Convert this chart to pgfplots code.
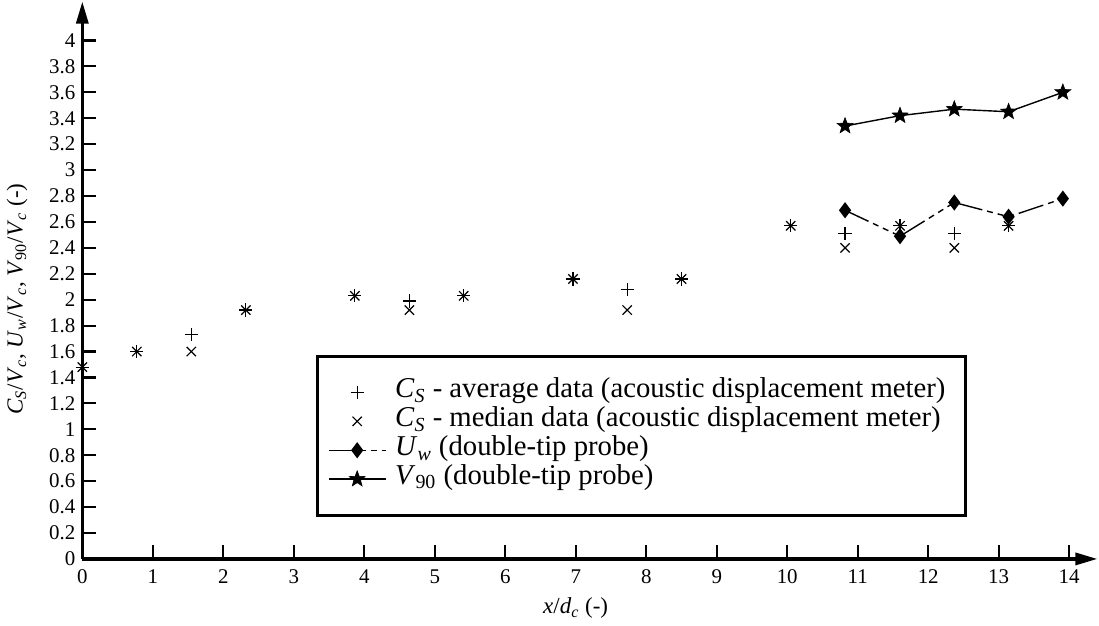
\documentclass[border=0pt]{standalone}
\usepackage{fontspec}
\setmainfont{Liberation Serif}
\usepackage{pgfplots}
\pgfplotsset{compat=1.18}
\usetikzlibrary{arrows.meta}
\newcommand\vv[2]{\textit{#1}\textsubscript{#2}}
\pgfplotsset{
  marklegend/.style={legend image code/.code={\path (0cm,0cm) (1cm,0cm); \draw[##1] plot coordinates {(0.5cm,0cm)};}},
  linelegend/.style={legend image code/.code={\draw[mark repeat=2,mark phase=2,##1] plot coordinates {(0cm,0cm) (0.5cm,0cm) (1cm,0cm)};}},
}
\pgfdeclareplotmark{fstar}{%
  \pgfpathmoveto{\pgfpointpolar{90}{\pgfplotmarksize}}%
  \pgfpathlineto{\pgfpointpolar{126}{0.42\pgfplotmarksize}}%
  \pgfpathlineto{\pgfpointpolar{162}{\pgfplotmarksize}}%
  \pgfpathlineto{\pgfpointpolar{198}{0.42\pgfplotmarksize}}%
  \pgfpathlineto{\pgfpointpolar{234}{\pgfplotmarksize}}%
  \pgfpathlineto{\pgfpointpolar{270}{0.42\pgfplotmarksize}}%
  \pgfpathlineto{\pgfpointpolar{306}{\pgfplotmarksize}}%
  \pgfpathlineto{\pgfpointpolar{342}{0.42\pgfplotmarksize}}%
  \pgfpathlineto{\pgfpointpolar{18}{\pgfplotmarksize}}%
  \pgfpathlineto{\pgfpointpolar{54}{0.42\pgfplotmarksize}}%
  \pgfpathclose
  \pgfusepathqfillstroke}
\begin{document}
\begin{tikzpicture}
\begin{axis}[
  scale only axis,
  x=35.35pt, y=65pt,
  xmin=0, xmax=14.4, ymin=0, ymax=4.3,
  axis lines=left,
  axis line style={line width=1.6pt, -{Triangle[length=11pt,width=6pt]}},
  tick align=inside,
  major tick length=6.8pt,
  tick style={line width=1.1pt, black},
  xtick={0,1,...,14},
  ytick={0,0.2,0.4,0.6,0.8,1,1.2,1.4,1.6,1.8,2,2.2,2.4,2.6,2.8,3,3.2,3.4,3.6,3.8,4},
  /pgf/number format/assume math mode=true,
  ticklabel style={font=\fontsize{10.5}{12}\selectfont},
  xticklabel style={yshift=-2pt},
  xlabel={\textit{x}/\vv{d}{\textit{c}} (-)},
  ylabel={\vv{C}{\textit{S}}/\vv{V}{\textit{c}}, \vv{U}{\textit{w}}/\vv{V}{\textit{c}}, \vv{V}{90}/\vv{V}{\textit{c}} (-)},
  label style={font=\fontsize{11.5}{13}\selectfont},
  xlabel style={at={(ticklabel cs:0.486)}, yshift=0pt},
  ylabel style={at={(ticklabel cs:0.466)}},
  ylabel shift=4pt,
  legend cell align=left,
  legend style={at={(axis cs:3.31,1.577)}, anchor=north west, draw=black, line width=1.5pt,
    font=\fontsize{14.4}{16}\selectfont, inner xsep=5.5pt, inner ysep=11pt,
    row sep=0pt, nodes={text height=10pt, text depth=4.5pt, inner ysep=0pt, inner xsep=4.5pt}},
]
\addplot[only marks, mark=+, mark size=3.3pt, line width=0.6pt, marklegend] coordinates {
(0,1.48) (0.773,1.60) (1.546,1.73) (2.32,1.92) (3.866,2.03) (4.64,1.99) (5.41,2.03)
(6.96,2.16) (7.73,2.08) (8.5,2.16) (10.05,2.57) (10.82,2.51) (11.6,2.57) (12.37,2.51) (13.14,2.57)};
\addlegendentry{\vv{C}{\textit{S}} - average data (acoustic displacement meter)}
\addplot[only marks, mark=x, mark size=3.3pt, line width=0.6pt, marklegend] coordinates {
(0,1.48) (0.773,1.60) (1.546,1.60) (2.32,1.92) (3.866,2.03) (4.64,1.92) (5.41,2.03)
(6.96,2.16) (7.73,1.92) (8.5,2.16) (10.05,2.57) (10.82,2.40) (11.6,2.57) (12.37,2.40) (13.14,2.57)};
\addlegendentry{\vv{C}{\textit{S}} - median data (acoustic displacement meter)}
\addplot[black, line width=0.7pt, dash pattern={on 13pt off 2.5pt on 3pt off 2.5pt on 3pt off 2.5pt on 3pt off 2.5pt},
  mark=diamond*, mark size=3.5pt, mark options={solid, fill=black}, linelegend] coordinates {
(10.82,2.69) (11.6,2.49) (12.37,2.75) (13.14,2.64) (13.91,2.78)};
\addlegendentry{\vv{U}{\textit{w}} (double-tip probe)}
\addplot[black, line width=0.7pt, mark=fstar, mark size=4.2pt, mark options={solid, fill=black, line width=0.3pt}, linelegend] coordinates {
(10.82,3.34) (11.6,3.42) (12.37,3.47) (13.14,3.45) (13.91,3.60)};
\addlegendentry{\vv{V}{90} (double-tip probe)}
\end{axis}
\end{tikzpicture}
\end{document}
